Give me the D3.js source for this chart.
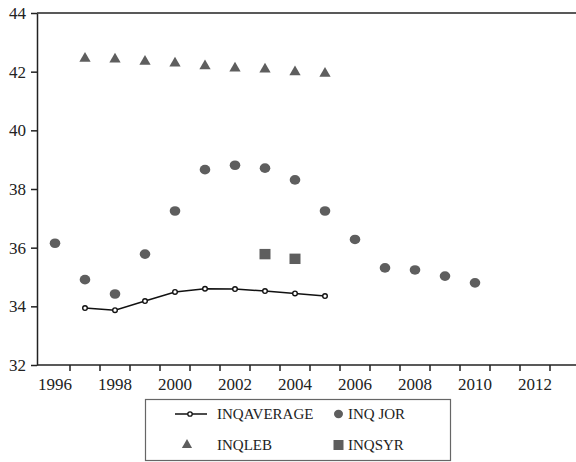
<!DOCTYPE html>
<html>
<head>
<meta charset="utf-8">
<script src="https://cdn.jsdelivr.net/npm/d3@7"></script>
<style>
  body { margin: 0; background: #fff; }
  svg text { font-family: "Liberation Serif", "DejaVu Serif", serif; fill: #222; }
</style>
</head>
<body>
<script>
// years on the category axis
var years = d3.range(1996, 2014)
var yTicks = [32, 34, 36, 38, 40, 42, 44]
var xLabels = [1996, 1998, 2000, 2002, 2004, 2006, 2008, 2010, 2012]

// series
var avgYears = [1997, 1998, 1999, 2000, 2001, 2002, 2003, 2004, 2005]
var avgValues = [33.94, 33.87, 34.18, 34.49, 34.60, 34.59, 34.52, 34.44, 34.35]

var jorYears = [1996, 1997, 1998, 1999, 2000, 2001, 2002, 2003, 2004, 2005, 2006, 2007, 2008, 2009, 2010]
var jorValues = [36.15, 34.91, 34.42, 35.78, 37.25, 38.66, 38.81, 38.71, 38.31, 37.25, 36.28, 35.31, 35.24, 35.03, 34.80]

var lebYears = [1997, 1998, 1999, 2000, 2001, 2002, 2003, 2004, 2005]
var lebValues = [42.45, 42.42, 42.35, 42.29, 42.19, 42.12, 42.08, 41.99, 41.94]

var syrYears = [2003, 2004]
var syrValues = [35.78, 35.62]

var width = 576, height = 462
var plotLeft = 37, plotTop = 13, plotBottom = 365
var grey = "#5e5e5e"
var serif = "'Liberation Serif', 'DejaVu Serif', serif"

var svg = d3.select("body").append("svg")
    .attr("width", width)
    .attr("height", height)

var x = d3.scaleBand()
    .domain(years)
    .range([40, 580])
    .padding(0)

var y = d3.scaleLinear()
    .domain([32, 44])
    .range([plotBottom, plotTop])

var cx = function(yr){ return x(yr) + x.bandwidth() / 2 }

// frame: top line
svg.append("line")
    .attr("x1", plotLeft).attr("x2", width)
    .attr("y1", plotTop).attr("y2", plotTop)
    .attr("stroke", "#222").attr("stroke-width", 1.5)

// y axis
var yAxis = svg.append("g")
    .attr("transform", "translate(" + plotLeft + ",0)")
    .call(d3.axisLeft(y).tickValues(yTicks).tickSize(6).tickPadding(5).tickSizeOuter(0))
yAxis.attr("font-family", null)
yAxis.select(".domain").attr("stroke", "#222").attr("stroke-width", 1.5)
yAxis.selectAll(".tick line").attr("stroke", "#222").attr("stroke-width", 1.5)
yAxis.selectAll("text").style("font-size", "17px").attr("fill", "#222")
    .style("font-family", serif)

// x axis: ticks at band boundaries, labels every 2 years
var xAxis = svg.append("g")
    .attr("transform", "translate(0," + plotBottom + ")")
xAxis.append("line")
    .attr("x1", plotLeft).attr("x2", width)
    .attr("stroke", "#222").attr("stroke-width", 1.5)
xAxis.selectAll(".xt")
    .data(years.slice(1))
    .enter()
    .append("line")
    .attr("class", "xt")
    .attr("x1", d => x(d)).attr("x2", d => x(d))
    .attr("y1", 0).attr("y2", 6)
    .attr("stroke", "#222").attr("stroke-width", 1.5)
xAxis.selectAll(".xl")
    .data(xLabels)
    .enter()
    .append("text")
    .attr("class", "xl")
    .attr("x", d => cx(d))
    .attr("y", 25)
    .attr("text-anchor", "middle")
    .style("font-size", "17px")
    .style("font-family", serif)
    .text(d => d)

// INQ LEB triangles
var tri = d3.symbol().type(d3.symbolTriangle).size(55)
svg.selectAll(".leb")
    .data(lebYears)
    .enter()
    .append("path")
    .attr("class", "leb")
    .attr("d", tri)
    .attr("transform", (d, i) => "translate(" + cx(d) + "," + y(lebValues[i]) + ")")
    .attr("fill", grey)

// INQ JOR circles
svg.selectAll(".jor")
    .data(jorYears)
    .enter()
    .append("ellipse")
    .attr("class", "jor")
    .attr("cx", d => cx(d))
    .attr("cy", (d, i) => y(jorValues[i]))
    .attr("rx", 5.3).attr("ry", 4.8)
    .attr("fill", grey)

// INQ SYR squares
svg.selectAll(".syr")
    .data(syrYears)
    .enter()
    .append("rect")
    .attr("class", "syr")
    .attr("x", d => cx(d) - 5.5)
    .attr("y", (d, i) => y(syrValues[i]) - 5.2)
    .attr("width", 11).attr("height", 10.4)
    .attr("fill", grey)

// INQ AVERAGE line
var line = d3.line()
    .x((d, i) => cx(avgYears[i]))
    .y(d => y(d))
svg.append("path")
    .datum(avgValues)
    .attr("d", line)
    .attr("fill", "none")
    .attr("stroke", "#111")
    .attr("stroke-width", 1.5)
svg.selectAll(".avg")
    .data(avgYears)
    .enter()
    .append("circle")
    .attr("class", "avg")
    .attr("cx", d => cx(d))
    .attr("cy", (d, i) => y(avgValues[i]))
    .attr("r", 2.3)
    .attr("fill", "#fff")
    .attr("stroke", "#111")
    .attr("stroke-width", 1.4)

// legend
var lg = svg.append("g")
lg.append("rect")
    .attr("x", 145.5).attr("y", 399.5)
    .attr("width", 305).attr("height", 61)
    .attr("fill", "none").attr("stroke", "#666").attr("stroke-width", 1.2)

var row1 = 414, row2 = 445
lg.append("line").attr("x1", 175).attr("x2", 207).attr("y1", row1).attr("y2", row1)
    .attr("stroke", "#111").attr("stroke-width", 1.5)
lg.append("circle").attr("cx", 190).attr("cy", row1).attr("r", 2.2)
    .attr("fill", "#fff").attr("stroke", "#111").attr("stroke-width", 1.3)
lg.append("ellipse").attr("cx", 338.5).attr("cy", row1).attr("rx", 4.5).attr("ry", 4.2).attr("fill", grey)
lg.append("path").attr("d", d3.symbol().type(d3.symbolTriangle).size(45))
    .attr("transform", "translate(187," + row2 + ")").attr("fill", grey)
lg.append("rect").attr("x", 333.5).attr("y", row2 - 5).attr("width", 10).attr("height", 10).attr("fill", grey)

var legendText = [
    {t: "INQAVERAGE", x: 217, y: row1},
    {t: "INQ JOR", x: 348, y: row1},
    {t: "INQLEB", x: 217, y: row2},
    {t: "INQSYR", x: 348, y: row2}
]
lg.selectAll(".lt")
    .data(legendText)
    .enter()
    .append("text")
    .attr("class", "lt")
    .attr("x", d => d.x)
    .attr("y", d => d.y + 5)
    .style("font-size", "15px")
    .style("font-family", serif)
    .text(d => d.t)
</script>
</body>
</html>
